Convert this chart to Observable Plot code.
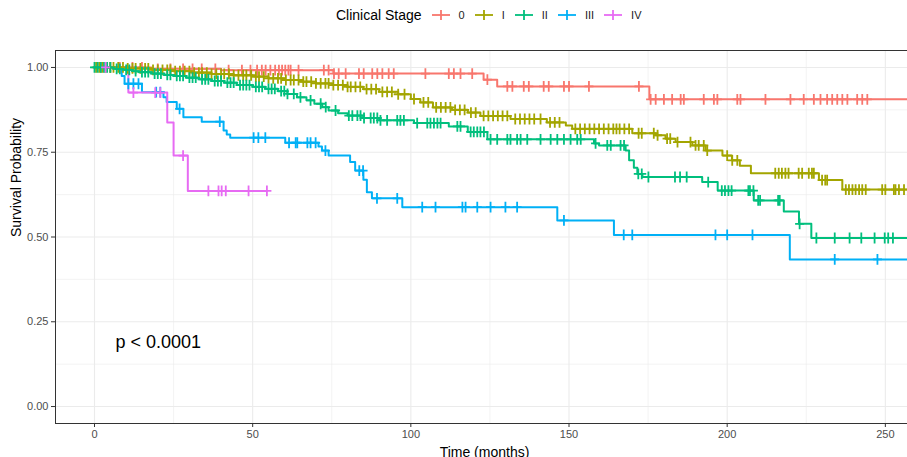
<!DOCTYPE html>
<html>
<head>
<meta charset="utf-8">
<script src="https://cdn.jsdelivr.net/npm/d3@7"></script>
<script src="https://cdn.jsdelivr.net/npm/@observablehq/plot@0.6"></script>
<style>
  html, body { margin: 0; padding: 0; background: #fff; overflow: hidden; }
  body { width: 920px; font-family: "Liberation Sans", Arial, sans-serif; }
  #legend { height: 30px; display: flex; align-items: center; padding-left: 336px; box-sizing: border-box; }
  #legend .title { font-size: 14px; color: #000; margin-right: 10px; }
  #legend .item { display: flex; align-items: center; margin-right: 10px; }
  #legend .item svg { margin-right: 9px; }
  #legend .item span { font-size: 11px; color: #222; }
  g[aria-label="x-axis tick"], g[aria-label="y-axis tick"] { stroke: #333; }
  g[aria-label="x-axis tick label"], g[aria-label="y-axis tick label"] { fill: #4d4d4d; }
</style>
</head>
<body>
<div id="legend"></div>
<div id="chart"></div>
<script>
// ---- data ----
const stages = ["0", "I", "II", "III", "IV"];
const colors = ["#F8766D", "#A3A500", "#00BF7D", "#00B0F6", "#E76BF3"];
const legendTitle = "Clinical Stage";

// step points (time in months, survival probability)
const t0 = [0, 18, 40, 75.5, 123, 127.3, 175.4];
const s0 = [1, 0.996, 0.992, 0.982, 0.964, 0.944, 0.906];
const c0 = [2, 5, 8, 12, 15, 20, 24, 28, 31, 33.9, 38.2, 42.4, 46.6, 49.3, 51.4, 52.9, 54.1, 55.6, 57.1, 58.3, 59.3, 60.3, 61.3, 62, 64.5, 72.5, 74, 75.7, 77.2, 79.4, 83.6, 85.1, 87.8, 89.4, 91, 93, 94.6, 104.6, 112, 113.6, 115.7, 119.4, 124.2, 130.5, 132.1, 135.7, 137.3, 142, 143.6, 148.4, 150, 156.3, 172.1, 175.8, 177.4, 180, 182.6, 185.3, 186.3, 192.6, 195.8, 196.9, 203.2, 204.2, 212.1, 220, 224.2, 227.4, 229.5, 231.6, 233.2, 234.8, 236.4, 238, 241.1, 242.7, 244.3];

const t1 = [0, 10, 18, 25, 31, 37, 44, 50, 55, 60, 65, 70, 75, 80, 85, 90, 96, 100, 103, 107, 113, 118, 122, 131.5, 143, 149, 151, 170, 177.4, 180.5, 183.7, 189, 193.2, 198.5, 201.5, 204, 207.5, 229, 236.4];
const s1 = [1, 0.997, 0.993, 0.989, 0.985, 0.981, 0.977, 0.973, 0.968, 0.963, 0.958, 0.953, 0.948, 0.943, 0.936, 0.928, 0.921, 0.907, 0.897, 0.882, 0.875, 0.867, 0.857, 0.848, 0.838, 0.829, 0.819, 0.806, 0.8, 0.79, 0.78, 0.77, 0.755, 0.74, 0.726, 0.71, 0.688, 0.668, 0.64];
const c1 = [0.5, 1.5, 2.5, 3.5, 5, 6, 7.5, 9, 10.5, 12, 13, 14.5, 16, 17, 18.5, 20, 21.5, 23, 24, 25.5, 27, 28.5, 30, 31.5, 33, 34, 35.5, 37, 38.5, 40, 41, 42.5, 44, 45.5, 47, 48, 49.5, 51, 52, 53.5, 55, 56.5, 58, 59, 60.5, 62, 63, 64.5, 66, 67, 68.5, 70, 71.5, 73, 74, 75.5, 77, 78.5, 80, 81, 82.5, 84, 86, 87.5, 89, 91, 92.5, 94, 96, 98, 101, 104, 105.5, 108, 109.5, 111, 112.5, 114, 115.5, 117, 119, 120.5, 123, 124.5, 126, 127.5, 129, 130.5, 133, 134.5, 136, 137.5, 139, 141, 144, 145.5, 147, 152, 153.5, 155, 156.5, 158, 159.5, 161, 162.5, 164, 165, 166, 167.5, 169, 172, 173, 176.8, 178, 181, 182, 184.3, 188.4, 190, 191, 192.6, 193.7, 200, 201.6, 203.2, 215.2, 216.3, 217.3, 218.4, 219.4, 222.6, 223.7, 225.8, 226.8, 227.4, 230, 231, 231.6, 237.5, 238.5, 239.6, 240.6, 241.7, 242.7, 243.8, 249, 250, 252.7, 253.2, 254.3, 255.9];

const t2 = [0, 6, 9, 12, 14, 18, 22, 25, 29, 33, 37, 41, 45, 50, 54, 58, 61, 64, 67, 69.5, 72, 74, 77, 80, 85, 90, 101, 112, 118, 124.2, 157.9, 159.5, 167.9, 169, 170.5, 171.6, 173.2, 192.1, 197, 208.4, 217.9, 222.7, 226.6];
const s2 = [1, 0.996, 0.993, 0.989, 0.986, 0.982, 0.978, 0.975, 0.97, 0.965, 0.96, 0.955, 0.948, 0.943, 0.937, 0.93, 0.922, 0.912, 0.903, 0.893, 0.883, 0.873, 0.865, 0.858, 0.851, 0.844, 0.836, 0.826, 0.81, 0.788, 0.776, 0.77, 0.755, 0.726, 0.704, 0.686, 0.677, 0.662, 0.637, 0.608, 0.575, 0.539, 0.497];
const c2 = [0, 1, 2, 3, 4, 5, 7, 8, 10, 11, 13, 15, 16, 17, 19, 20, 21, 23, 24, 26, 27, 28, 30, 31, 32, 34, 35, 36, 38, 39, 40, 42, 43, 44, 46, 47, 48, 49, 51, 52, 53, 55, 56, 57, 59, 60, 61, 63, 65.1, 68.3, 71.5, 73.1, 76.2, 80.4, 81.5, 83.1, 84.1, 85.2, 87.3, 88.3, 89.4, 90.4, 92.5, 95.7, 96.7, 97.8, 102, 105.2, 106.2, 107.3, 108.4, 109.4, 114.7, 115.7, 118.9, 119.9, 121, 122, 123.1, 125.2, 127.3, 130.5, 131.5, 133.6, 134.7, 136.8, 141, 144.2, 146.3, 148.4, 150.5, 152.6, 153.7, 158.4, 162.1, 163.2, 166.3, 167.4, 171.9, 173, 175.1, 183.5, 185.1, 187.2, 194, 198.3, 199.3, 200.4, 201.4, 206.7, 207.2, 208.3, 209.8, 210.4, 216.1, 216.6, 222.9, 228.2, 234, 238.7, 242.4, 246.6, 249.8, 250.9, 252.4];

const t3 = [0, 8.6, 9.5, 15, 21.8, 22.8, 26, 28.1, 33.9, 40.8, 41.8, 42.9, 60.3, 70.8, 71.9, 74, 80.8, 82.4, 85, 86.1, 87.7, 97.3, 146.3, 164.2, 219.8];
const s3 = [1, 0.975, 0.952, 0.927, 0.912, 0.898, 0.878, 0.853, 0.84, 0.814, 0.802, 0.793, 0.778, 0.767, 0.755, 0.74, 0.721, 0.696, 0.669, 0.632, 0.614, 0.588, 0.549, 0.506, 0.434];
const c3 = [10.7, 12.3, 13.9, 19.5, 20.8, 26.9, 39.6, 50.3, 51.8, 54, 61.5, 63.6, 64.1, 67.3, 68.3, 69.9, 73, 83.7, 84.9, 89.3, 95.7, 103.6, 107.8, 116.3, 117.3, 121, 125.2, 129.9, 133.6, 148.4, 167.3, 170, 196.3, 200, 208, 234, 247.5];

const t4 = [0, 10.7, 23, 25, 29.5];
const s4 = [1, 0.926, 0.838, 0.74, 0.636];
const c4 = [3.5, 12.3, 19.2, 20.8, 28, 36, 39.2, 40.2, 41.5, 48.7, 54.5];

const lastTime = [262, 262, 262, 262, 54.5];
const pLabel = "p < 0.0001";
const xTicks = [0, 50, 100, 150, 200, 250];
const xMinor = [25, 75, 125, 175, 225];
const yTicks = [0, 0.25, 0.5, 0.75, 1];
const yMinor = [0.125, 0.375, 0.625, 0.875];

// ---- build tables ----
const T = [t0, t1, t2, t3, t4], S = [s0, s1, s2, s3, s4], C = [c0, c1, c2, c3, c4];
const lines = [], censors = [];
stages.forEach((g, i) => {
  T[i].forEach((t, j) => lines.push({stage: g, time: t, surv: S[i][j]}));
  lines.push({stage: g, time: lastTime[i], surv: S[i][S[i].length - 1]});
  C[i].forEach(t => {
    let k = 0;
    for (let j = 0; j < T[i].length; j++) if (T[i][j] <= t) k = j;
    censors.push({stage: g, time: t, surv: S[i][k]});
  });
});

const plusSymbol = {
  draw(ctx, size) {
    const r = Math.sqrt(size / Math.PI);
    ctx.moveTo(-r, 0); ctx.lineTo(r, 0);
    ctx.moveTo(0, -r * 1.2); ctx.lineTo(0, r * 1.2);
  }
};

// ---- legend ----
const leg = document.getElementById("legend");
const lt = document.createElement("span");
lt.className = "title"; lt.textContent = legendTitle; leg.appendChild(lt);
stages.forEach((g, i) => {
  const it = document.createElement("div"); it.className = "item";
  it.innerHTML = `<svg width="18" height="14"><line x1="0" x2="18" y1="7" y2="7" stroke="${colors[i]}" stroke-width="1.8"/><line x1="9" x2="9" y1="2" y2="12" stroke="${colors[i]}" stroke-width="1.8"/></svg><span>${g}</span>`;
  leg.appendChild(it);
});

// ---- chart ----
const chart = Plot.plot({
  width: 920, height: 433,
  marginLeft: 55, marginRight: 7, marginTop: 20, marginBottom: 40,
  style: {fontFamily: "'Liberation Sans', Arial, sans-serif", background: "#fff", overflow: "visible"},
  x: {domain: [-12.33, 258.9]},
  y: {domain: [-0.05, 1.05]},
  color: {domain: stages, range: colors},
  marks: [
    Plot.ruleX(xMinor, {stroke: "#ebebeb", strokeWidth: 0.6}),
    Plot.ruleY(yMinor, {stroke: "#ebebeb", strokeWidth: 0.6}),
    Plot.ruleX(xTicks, {stroke: "#ebebeb", strokeWidth: 1.1}),
    Plot.ruleY(yTicks, {stroke: "#ebebeb", strokeWidth: 1.1}),
    Plot.line(lines, {x: "time", y: "surv", z: "stage", stroke: "stage", curve: "step-after", strokeWidth: 2, clip: true}),
    Plot.dot(censors, {x: "time", y: "surv", stroke: "stage", symbol: plusSymbol, r: 4.5, strokeWidth: 1.8, fill: "none", clip: true}),
    Plot.text([pLabel], {x: 6.6, y: 0.19, text: d => d, textAnchor: "start", fontSize: 18, fill: "#000"}),
    Plot.frame({stroke: "#333", strokeWidth: 1}),
    Plot.axisX({ticks: xTicks, tickSize: 4, tickPadding: 3, fontSize: 11, label: null}),
    Plot.axisY({ticks: yTicks, tickSize: 4, tickPadding: 3, fontSize: 11, tickFormat: d3.format(".2f"), label: null}),
    Plot.text(["Time (months)"], {frameAnchor: "bottom", dy: 29, text: d => d, fontSize: 14, fill: "#000", lineAnchor: "middle"}),
    Plot.text(["Survival Probability"], {frameAnchor: "left", dx: -39, rotate: -90, text: d => d, fontSize: 14, fill: "#000", lineAnchor: "middle"})
  ]
});
document.getElementById("chart").appendChild(chart);
</script>
</body>
</html>
